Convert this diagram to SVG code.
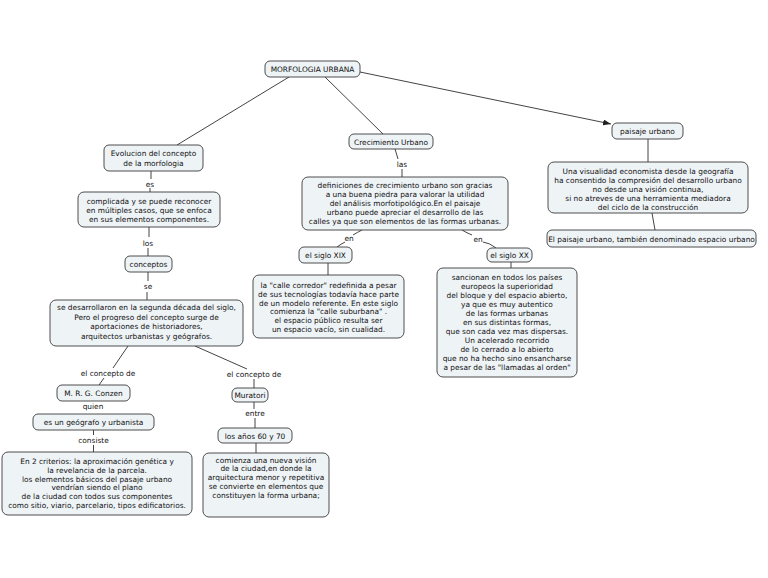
<svg xmlns="http://www.w3.org/2000/svg" width="768" height="578" viewBox="0 0 768 578">
<style>
.n rect{fill:#eef3f6;stroke:#3a3a3a;stroke-width:0.9}
text{font-family:"DejaVu Sans","Verdana",sans-serif;font-size:7.4px;fill:#111;text-anchor:middle}
.c line,.c path{stroke:#444;stroke-width:1;fill:none}
</style>
<defs>
<marker id="ah" markerWidth="8" markerHeight="6" refX="8" refY="3" orient="auto" markerUnits="userSpaceOnUse">
<path d="M0,0 L8,3 L0,6 Z" fill="#222"/>
</marker>
</defs>
<rect width="768" height="578" fill="#fff"/>
<g class="c">
<line x1="289" y1="77" x2="177" y2="145"/>
<line x1="325" y1="77" x2="383" y2="134"/>
<line x1="360" y1="72" x2="611" y2="124" marker-end="url(#ah)"/>
<line x1="151" y1="171" x2="151" y2="179"/>
<line x1="150" y1="188" x2="150" y2="192"/>
<line x1="149" y1="227" x2="149" y2="237"/>
<line x1="148" y1="248" x2="148" y2="256"/>
<line x1="148" y1="272" x2="148" y2="281"/>
<line x1="147" y1="292" x2="147" y2="300"/>
<line x1="128" y1="346" x2="113" y2="368"/>
<line x1="104" y1="378" x2="99" y2="385"/>
<line x1="195" y1="346" x2="247" y2="369"/>
<line x1="254" y1="379" x2="254" y2="388"/>
<line x1="93.5" y1="430" x2="93.5" y2="435"/>
<line x1="93.5" y1="445" x2="93.5" y2="452"/>
<line x1="254" y1="402" x2="254" y2="409"/>
<line x1="255" y1="418" x2="255" y2="428"/>
<line x1="256" y1="443" x2="256" y2="453"/>
<line x1="395" y1="149" x2="398" y2="159"/>
<line x1="402" y1="169" x2="402" y2="177"/>
<path d="M362,230 Q358,232 353,235"/>
<path d="M345,242 Q341,244 337,247"/>
<path d="M462,230 Q467,233 472,235"/>
<path d="M483,242 Q490,243 496,248"/>
<line x1="328" y1="263" x2="328" y2="275"/>
<line x1="511" y1="262" x2="511" y2="268"/>
<line x1="648" y1="139" x2="648" y2="162"/>
<line x1="652" y1="213" x2="655" y2="230"/>
</g>
<g id="labels">
<text x="150" y="186.5">es</text>
<text x="148" y="245.5">los</text>
<text x="148" y="289">se</text>
<text x="108" y="375.5">el concepto de</text>
<text x="93" y="409">quien</text>
<text x="93.5" y="442.5">consiste</text>
<text x="254" y="376.5">el concepto de</text>
<text x="255" y="416">entre</text>
<text x="402" y="166.5">las</text>
<text x="349" y="240.5">en</text>
<text x="478" y="241.5">en</text>
</g>
<g id="n1" class="n"><rect x="265" y="61" width="95" height="16" rx="5"/><text x="312.5" y="72">MORFOLOGIA URBANA</text></g>
<g id="n2" class="n"><rect x="104" y="145" width="99" height="26" rx="5"/><text x="153.5" y="156">Evolucion del concepto</text><text x="153.5" y="165.5">de la morfologia</text></g>
<g id="n3" class="n"><rect x="349" y="134" width="84" height="15" rx="5"/><text x="391" y="144.5">Crecimiento Urbano</text></g>
<g id="n4" class="n"><rect x="612" y="123" width="71" height="16" rx="5"/><text x="647.5" y="134">paisaje urbano</text></g>
<g id="n5" class="n"><rect x="548" y="162" width="200" height="51" rx="6"/>
<text x="648" y="173.5">Una visualidad economista desde la geografía</text>
<text x="648" y="182.5">ha consentido la compresión del desarrollo urbano</text>
<text x="648" y="191.5">no desde una visión continua,</text>
<text x="648" y="200.5">si no atreves de una herramienta mediadora</text>
<text x="648" y="209.5">del ciclo de la construcción</text></g>
<g id="n6" class="n"><rect x="547" y="230" width="209" height="17" rx="5"/><text x="651.5" y="241.5">El paisaje urbano, también denominado espacio urbano</text></g>
<g id="n7" class="n"><rect x="78" y="192" width="142" height="35" rx="6"/>
<text x="149" y="203.5">complicada y se puede reconocer</text>
<text x="149" y="212.5">en múltiples casos, que se enfoca</text>
<text x="149" y="221.5">en sus elementos componentes.</text></g>
<g id="n8" class="n"><rect x="125" y="256" width="47" height="16" rx="5"/><text x="148.5" y="267">conceptos</text></g>
<g id="n9" class="n"><rect x="50" y="300" width="193" height="46" rx="6"/>
<text x="146.5" y="310">se desarrollaron  en la segunda década del siglo,</text>
<text x="146.5" y="319.5">Pero el progreso del concepto surge de</text>
<text x="146.5" y="329">aportaciones de historiadores,</text>
<text x="146.5" y="338.5">arquitectos urbanistas y geógrafos.</text></g>
<g id="n10" class="n"><rect x="302" y="177" width="206" height="53" rx="6"/>
<text x="405" y="187.5">definiciones de crecimiento urbano son gracias</text>
<text x="405" y="196.5">a una buena piedra para valorar la utilidad</text>
<text x="405" y="205.5">del análisis morfotipológico.En el paisaje</text>
<text x="405" y="214.5">urbano puede apreciar el desarrollo de las</text>
<text x="405" y="224">calles ya que son elementos de las formas urbanas.</text></g>
<g id="n11" class="n"><rect x="299" y="247" width="53" height="16" rx="5"/><text x="325.5" y="258">el siglo XIX</text></g>
<g id="n12" class="n"><rect x="253" y="275" width="151" height="63" rx="6"/>
<text x="328.5" y="287.5">la "calle corredor" redefinida a pesar</text>
<text x="328.5" y="296.5">de sus tecnologías todavía hace parte</text>
<text x="328.5" y="305.5">de un modelo referente. En este siglo</text>
<text x="328.5" y="314">comienza la "calle suburbana" .</text>
<text x="328.5" y="323">el espacio público resulta ser</text>
<text x="328.5" y="331.5">un espacio vacío, sin cualidad.</text></g>
<g id="n13" class="n"><rect x="487" y="248" width="45" height="14" rx="5"/><text x="509.5" y="258">el siglo XX</text></g>
<g id="n14" class="n"><rect x="437" y="268" width="140" height="109" rx="6"/>
<text x="507" y="279.5">sancionan en todos los países</text>
<text x="507" y="288.5">europeos la superioridad</text>
<text x="507" y="297.5">del bloque y del espacio abierto,</text>
<text x="507" y="306.5">ya que es muy autentico</text>
<text x="507" y="315.5">de las formas urbanas</text>
<text x="507" y="324.5">en sus distintas formas,</text>
<text x="507" y="333.5">que son cada vez mas dispersas.</text>
<text x="507" y="342.5">Un acelerado recorrido</text>
<text x="507" y="351.5">de lo cerrado a lo abierto</text>
<text x="507" y="360.5">que no ha hecho sino ensancharse</text>
<text x="507" y="369.5">a pesar de las "llamadas al orden"</text></g>
<g id="n15" class="n"><rect x="57" y="385" width="73" height="16" rx="5"/><text x="93.5" y="396">M. R. G. Conzen</text></g>
<g id="n16" class="n"><rect x="33" y="414" width="121" height="16" rx="5"/><text x="93.5" y="425">es un geógrafo y urbanista</text></g>
<g id="n17" class="n"><rect x="2" y="452" width="190" height="63" rx="6"/>
<text x="97" y="463.5">En 2 criterios: la aproximación genética y</text>
<text x="97" y="472.5">la revelancia de la parcela.</text>
<text x="97" y="481.5">los elementos básicos del pasaje urbano</text>
<text x="97" y="490">vendrían siendo el plano</text>
<text x="97" y="499">de la ciudad con todos sus componentes</text>
<text x="97" y="507.5">como sitio, viario, parcelario, tipos edificatorios.</text></g>
<g id="n18" class="n"><rect x="232" y="388" width="36" height="14" rx="5"/><text x="250" y="398">Muratori</text></g>
<g id="n19" class="n"><rect x="218" y="428" width="74" height="15" rx="5"/><text x="255" y="438.5">los años 60 y 70</text></g>
<g id="n20" class="n"><rect x="203" y="453" width="126" height="64" rx="6"/>
<text x="266" y="462.5">comienza una nueva visión</text>
<text x="266" y="471">de la ciudad,en donde la</text>
<text x="266" y="480">arquitectura menor y repetitiva</text>
<text x="266" y="489">se convierte en elementos que</text>
<text x="266" y="497.5">constituyen la forma urbana;</text></g>
</svg>
